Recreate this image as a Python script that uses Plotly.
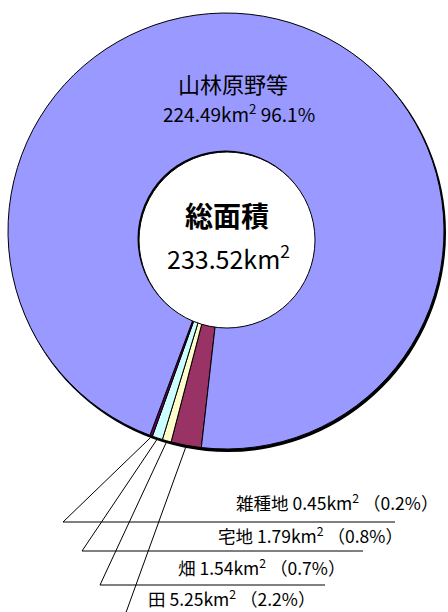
import math
import plotly.graph_objects as go

# ---- data ----
categories = ["田", "畑", "宅地", "雑種地", "山林原野等"]
areas = [5.25, 1.54, 1.79, 0.45, 224.49]
colors = ["#993366", "#FFFFCC", "#CCFFFF", "#660066", "#9999FF"]
total_label = "総面積"

# ---- layout constants (pixels) ----
W, H = 448, 612
CX, CY, R = 226, 231, 218          # outer ring
HX, HY, HR = 227, 240, 88          # inner hole
START = 186.5                      # first slice start, degrees clockwise from 12 o'clock

# small-slice label layout (pixel positions), order: 田, 畑, 宅地, 雑種地
lab_text_right = [317, 347, 405, 440]
lab_text_y = [598, 567, 535, 502]
lab_line_y = [618, 585, 551, 522]
lab_line_x0 = [124, 100, 82, 63]
lab_line_x1 = [290, 325, 363, 395]

FONT = "Noto Sans CJK JP, Noto Sans, sans-serif"

total = sum(areas)
pct = [v / total * 100 for v in areas]


def px(x):
    return x / W


def py(y):
    return 1 - y / H


fig = go.Figure(
    go.Pie(
        labels=categories,
        values=areas,
        sort=False,
        direction="clockwise",
        rotation=START - 360,
        marker=dict(colors=colors, line=dict(color="black", width=1)),
        textinfo="none",
        hoverinfo="label+value+percent",
        domain=dict(x=[px(CX - R), px(CX + R)], y=[py(CY + R), py(CY - R)]),
        showlegend=False,
    )
)

shapes = []
# outer shadow (below pie)
shapes.append(dict(type="circle", xref="paper", yref="paper", layer="below",
                   x0=px(CX - R + 1), x1=px(CX + R + 2), y0=py(CY + R + 3), y1=py(CY - R + 1),
                   fillcolor="black", line=dict(width=0)))
# hole shadow + hole
shapes.append(dict(type="circle", xref="paper", yref="paper", layer="above",
                   x0=px(HX - HR - 1.5), x1=px(HX + HR - 1), y0=py(HY + HR - 1), y1=py(HY - HR - 1.5),
                   fillcolor="black", line=dict(width=0)))
shapes.append(dict(type="circle", xref="paper", yref="paper", layer="above",
                   x0=px(HX - HR), x1=px(HX + HR), y0=py(HY + HR), y1=py(HY - HR),
                   fillcolor="white", line=dict(color="black", width=1)))

annotations = []
# leader lines and labels for small slices
cum = 0.0
for i in range(4):
    mid = START + (cum + areas[i] / 2) / total * 360
    cum += areas[i]
    a = math.radians(mid)
    sx = CX + (R + 2) * math.sin(a)
    sy = CY - (R + 2) * math.cos(a)
    shapes.append(dict(type="line", xref="paper", yref="paper", layer="above",
                       x0=px(sx), y0=py(sy), x1=px(lab_line_x0[i]), y1=py(lab_line_y[i]),
                       line=dict(color="black", width=1)))
    shapes.append(dict(type="line", xref="paper", yref="paper", layer="above",
                       x0=px(lab_line_x0[i]), y0=py(lab_line_y[i]),
                       x1=px(lab_line_x1[i]), y1=py(lab_line_y[i]),
                       line=dict(color="black", width=1)))
    annotations.append(dict(
        xref="paper", yref="paper", x=px(lab_text_right[i]), y=py(lab_text_y[i]),
        xanchor="right", yanchor="middle", showarrow=False,
        text=f"{categories[i]} {areas[i]:.2f}km<sup>2</sup> （{pct[i]:.1f}%）",
        font=dict(family=FONT, size=17.5, color="black"),
    ))

# big slice label
annotations.append(dict(xref="paper", yref="paper", x=px(233), y=py(83), showarrow=False,
                        xanchor="center", yanchor="middle", text=categories[4],
                        font=dict(family=FONT, size=22, color="black")))
annotations.append(dict(xref="paper", yref="paper", x=px(239), y=py(113), showarrow=False,
                        xanchor="center", yanchor="middle",
                        text=f"{areas[4]:.2f}km<sup>2</sup> {pct[4]:.1f}%",
                        font=dict(family=FONT, size=19, color="black")))
# centre label
annotations.append(dict(xref="paper", yref="paper", x=px(227), y=py(215), showarrow=False,
                        xanchor="center", yanchor="middle", text=f"<b>{total_label}</b>",
                        font=dict(family=FONT, size=28, color="black")))
annotations.append(dict(xref="paper", yref="paper", x=px(228), y=py(257), showarrow=False,
                        xanchor="center", yanchor="middle",
                        text=f"{total:.2f}km<sup>2</sup>",
                        font=dict(family=FONT, size=25, color="black")))

fig.update_layout(
    width=W, height=H,
    margin=dict(l=0, r=0, t=0, b=0),
    paper_bgcolor="white", plot_bgcolor="white",
    shapes=shapes, annotations=annotations,
)

fig.write_html(
    "out.html",
    config={"displayModeBar": False},
    post_script="document.body.style.margin='0';document.body.style.overflow='hidden';",
)
